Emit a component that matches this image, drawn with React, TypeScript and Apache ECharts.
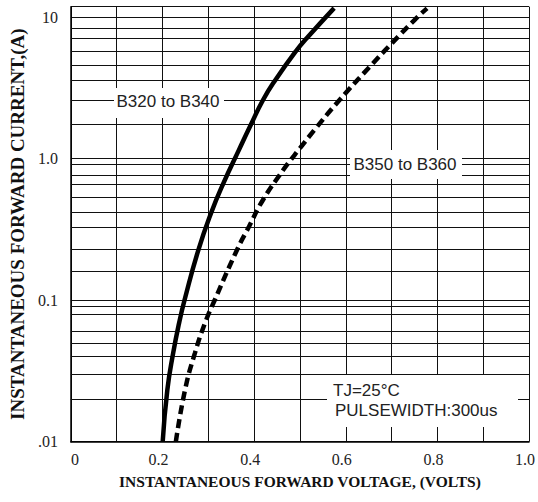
import React, { useEffect, useRef } from 'react';
import * as echarts from 'echarts';

// Forward voltage (V) / instantaneous current (A)
const solidVoltage = [0.2004, 0.2105, 0.2233, 0.2362, 0.2481, 0.2782, 0.3071, 0.3328, 0.3666, 0.3925, 0.4194, 0.4453, 0.4914, 0.5157, 0.5746];
const solidCurrent = [0.0100, 0.0232, 0.0424, 0.0690, 0.1003, 0.226, 0.422, 0.670, 1.15, 1.73, 2.60, 3.56, 5.77, 7.16, 11.6];
const dashedVoltage = [0.2291, 0.2491, 0.2705, 0.2925, 0.3140, 0.3625, 0.3886, 0.4192, 0.4634, 0.4797, 0.4940, 0.5315, 0.5864, 0.6524, 0.7004, 0.7500, 0.7774];
const dashedCurrent = [0.0100, 0.0232, 0.0421, 0.0687, 0.1003, 0.2264, 0.3307, 0.5107, 0.832, 0.979, 1.121, 1.595, 2.599, 4.470, 6.540, 9.555, 11.56];

const xTickLabels = ['0', '0.2', '0.4', '0.6', '0.8', '1.0'];
const yTickLabels = ['.01', '0.1', '1.0', '10'];
const yMin = 0.01;
const yMax = 11.87;

// Minor horizontal grid lines as drawn in the reference (values in A)
const minorGridCurrents = [
  0.0156, 0.0229, 0.0321, 0.0417, 0.0515, 0.0643, 0.0752, 0.0900,
  0.161, 0.233, 0.327, 0.422, 0.525, 0.659, 0.771, 0.913,
  1.75, 2.60, 3.56, 4.59, 5.77, 7.16, 8.35,
];

const seriesNames = ['B320 to B340', 'B350 to B360'];
const conditionLines = ['TJ=25°C', 'PULSEWIDTH:300us'];
const xTitle = 'INSTANTANEOUS FORWARD VOLTAGE, (VOLTS)';
const yTitle = 'INSTANTANEOUS FORWARD CURRENT,(A)';

const zip = (a: number[], b: number[]) => a.map((v, i) => [v, b[i]]);

export default function App() {
  const ref = useRef<HTMLDivElement>(null);
  useEffect(() => {
    if (!ref.current) return;
    const chart = echarts.init(ref.current, null, { renderer: 'svg' });
    const serif = '"Liberation Serif", "Times New Roman", serif';
    const sans = '"Liberation Sans", Arial, sans-serif';
    const gridColor = '#111';
    chart.setOption({
      animation: false,
      backgroundColor: '#fff',
      grid: { left: 66, right: 8, top: 6.7, bottom: 60.3, containLabel: false },
      xAxis: {
        type: 'value',
        min: 0,
        max: 1,
        interval: 0.1,
        name: xTitle,
        nameLocation: 'middle',
        nameGap: 32,
        nameTextStyle: { fontFamily: serif, fontWeight: 'bold', fontSize: 15.5, color: '#111' },
        axisLine: { show: true, onZero: false, lineStyle: { color: '#000', width: 1.5 } },
        axisTick: { show: false },
        splitLine: { show: true, lineStyle: { color: gridColor, width: 1 } },
        axisLabel: {
          margin: 10,
          fontFamily: serif,
          fontSize: 16,
          color: '#222',
          padding: [0, 8, 0, 0],
          formatter: (v: number) => {
            const i = Math.round(v * 10);
            if (i % 2 !== 0) return '';
            const t = xTickLabels[i / 2];
            return i === 0 ? '{zero|' + t + '}' : t;
          },
          rich: { zero: { padding: [0, 0, 0, 16], fontFamily: serif, fontSize: 16, color: '#222' } },
        },
      },
      yAxis: {
        type: 'log',
        logBase: 10,
        min: yMin,
        max: yMax,
        name: yTitle,
        nameLocation: 'middle',
        nameRotate: 90,
        nameGap: 38,
        nameTextStyle: { fontFamily: serif, fontWeight: 'bold', fontSize: 19, color: '#111' },
        axisLine: { show: true, onZero: false, lineStyle: { color: '#000', width: 1.5 } },
        axisTick: { show: false },
        splitLine: { show: true, lineStyle: { color: gridColor, width: 1 } },
        axisLabel: {
          margin: 13,
          fontFamily: serif,
          fontSize: 16,
          color: '#222',
          padding: [0, 0, 6, 0],
          formatter: (v: number) => {
            const l = Math.log10(v);
            const r = Math.round(l);
            if (Math.abs(l - r) > 0.01) return '';
            return yTickLabels[r + 2] ?? '';
          },
        },
      },
      series: [
        {
          type: 'line',
          name: 'grid',
          data: [],
          silent: true,
          z: 1,
          markLine: {
            silent: true,
            z: 1,
            symbol: 'none',
            label: { show: false },
            lineStyle: { type: 'solid', color: gridColor, width: 1 },
            emphasis: { disabled: true },
            data: minorGridCurrents.map((v) => ({ yAxis: v })),
          },
        },
        {
          type: 'line',
          name: seriesNames[0],
          data: zip(solidVoltage, solidCurrent),
          showSymbol: false,
          smooth: 0.5,
          z: 3,
          lineStyle: { color: '#000', width: 4.5, type: 'solid' },
        },
        {
          type: 'line',
          name: seriesNames[1],
          data: zip(dashedVoltage, dashedCurrent),
          showSymbol: false,
          smooth: 0.5,
          z: 3,
          lineStyle: { color: '#000', width: 4.5, type: [9, 5], cap: 'butt' },
        },
      ],
      graphic: [
        { type: 'rect', z: 50, shape: { x: 114, y: 88, width: 110, height: 30 }, style: { fill: '#fff' } },
        {
          type: 'text', z: 51, x: 168, y: 101,
          style: { text: seriesNames[0], font: '17px ' + sans, fill: '#222', textAlign: 'center', textVerticalAlign: 'middle' },
        },
        { type: 'rect', z: 50, shape: { x: 350, y: 150, width: 112, height: 29 }, style: { fill: '#fff' } },
        {
          type: 'text', z: 51, x: 405, y: 164,
          style: { text: seriesNames[1], font: '17px ' + sans, fill: '#222', textAlign: 'center', textVerticalAlign: 'middle' },
        },
        { type: 'rect', z: 50, shape: { x: 327, y: 375, width: 191, height: 52 }, style: { fill: '#fff' } },
        {
          type: 'text', z: 51, x: 333, y: 390,
          style: { text: conditionLines[0], font: '17px ' + sans, fill: '#222', textAlign: 'left', textVerticalAlign: 'middle' },
        },
        {
          type: 'text', z: 51, x: 335, y: 410,
          style: { text: conditionLines[1], font: '17px ' + sans, fill: '#222', textAlign: 'left', textVerticalAlign: 'middle' },
        },
      ],
    });
    return () => chart.dispose();
  }, []);
  return (
    <div
      ref={ref}
      style={{ position: 'fixed', left: 0, top: 0, width: 538, height: 502, background: '#fff' }}
    />
  );
}
